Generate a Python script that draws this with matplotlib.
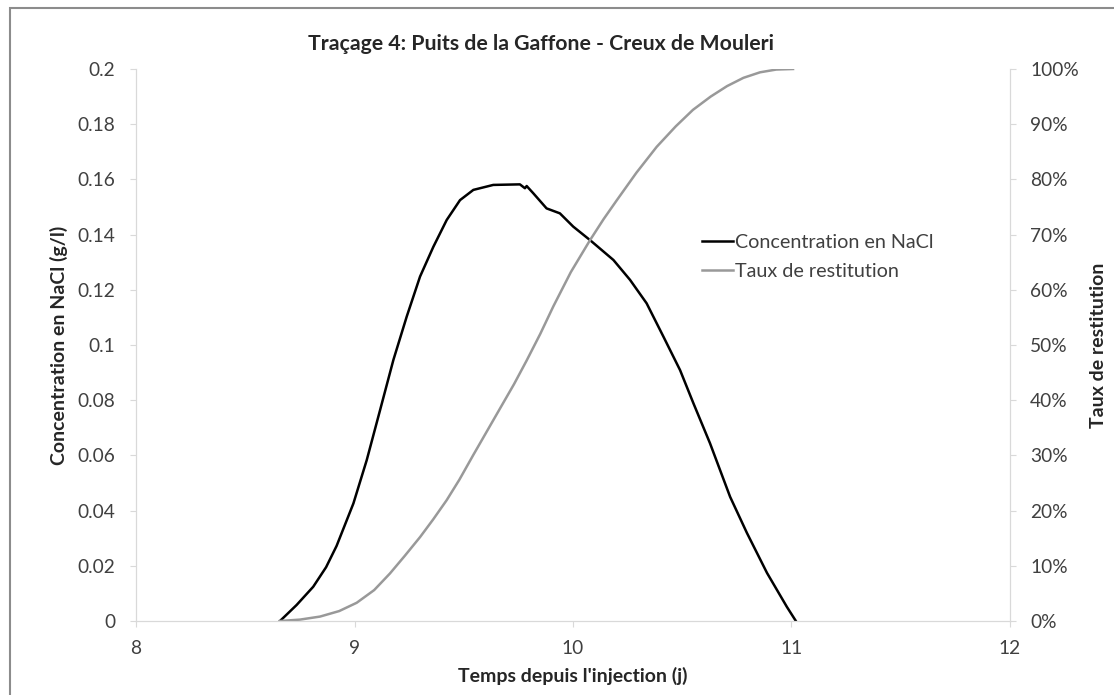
import matplotlib.pyplot as plt
from matplotlib.patches import Rectangle
from matplotlib.ticker import FuncFormatter

plt.rcParams['font.family'] = ['Lato', 'DejaVu Sans']

# concentration NaCl (g/l)
t_conc = [8.659, 8.735, 8.811, 8.87, 8.918, 8.995, 9.056, 9.117, 9.178, 9.239, 9.300, 9.361,
          9.422, 9.483, 9.544, 9.635, 9.757, 9.780, 9.788, 9.818, 9.879, 9.940,
          10.001, 10.078, 10.185, 10.261, 10.337, 10.414, 10.490, 10.551, 10.627,
          10.719, 10.796, 10.888, 10.979, 11.02]
conc = [0.0, 0.0058, 0.0124, 0.0195, 0.0272, 0.0426, 0.0583, 0.0764, 0.0946, 0.1103, 0.1248,
        0.1356, 0.1453, 0.1525, 0.1562, 0.158, 0.1582, 0.1568, 0.1576, 0.155,
        0.1495, 0.1477, 0.1429, 0.138, 0.1308, 0.1236, 0.1151, 0.103, 0.0909,
        0.0789, 0.0644, 0.045, 0.0319, 0.0174, 0.0051, 0.0]

# taux de restitution (%)
t_rest = [8.659, 8.75, 8.842, 8.93, 9.010, 9.09, 9.162, 9.23, 9.300, 9.36,
          9.422, 9.48, 9.544, 9.605, 9.666, 9.73, 9.788, 9.85, 9.910, 9.99,
          10.078, 10.14, 10.2, 10.29, 10.383, 10.47, 10.549, 10.63, 10.705,
          10.78, 10.856, 10.93, 11.007]
rest = [0.0, 0.25, 0.8, 1.8, 3.3, 5.6, 8.6, 11.8, 15.2, 18.4, 21.9, 25.6, 30.1,
        34.3, 38.5, 42.9, 47.2, 52.0, 57.0, 63.2, 69.0, 72.8, 76.2, 81.2, 85.9,
        89.6, 92.6, 95.0, 96.9, 98.4, 99.4, 99.9, 100.0]

fig = plt.figure(figsize=(11.14, 6.95), dpi=100)
ax = fig.add_axes([136 / 1114, 1 - 621 / 695, 874 / 1114, 552 / 695])
ax2 = ax.twinx()

l1, = ax.plot(t_conc, conc, color='black', lw=1.8, label='Concentration en NaCl')
l2, = ax2.plot(t_rest, rest, color='#999999', lw=1.8, label='Taux de restitution')

ax.set_xlim(8, 12)
ax.set_ylim(0, 0.2)
ax2.set_ylim(0, 100)
ax.set_xticks([8, 9, 10, 11, 12])
ax.set_yticks([0, 0.02, 0.04, 0.06, 0.08, 0.1, 0.12, 0.14, 0.16, 0.18, 0.2])
ax.yaxis.set_major_formatter(FuncFormatter(lambda v, p: f'{v:g}'))
ax2.set_yticks(range(0, 101, 10))
ax2.yaxis.set_major_formatter(FuncFormatter(lambda v, p: f'{v:.0f}%'))

for a in (ax, ax2):
    for s in a.spines.values():
        s.set_color('#d9d9d9')
    a.spines['top'].set_visible(False)
    a.tick_params(colors='#d9d9d9', labelcolor='#404040', labelsize=13.8, length=4)
ax.tick_params(axis='y', pad=11)
ax.tick_params(axis='x', pad=10)
ax2.tick_params(axis='y', pad=10.5)

ax.set_title('Traçage 4: Puits de la Gaffone - Creux de Mouleri', x=0.463,
             fontsize=15.3, fontweight='bold', color='#262626', pad=14)
ax.set_xlabel("Temps depuis l'injection (j)", fontsize=14, fontweight='bold',
              color='#262626', labelpad=7)
ax.set_ylabel('Concentration en NaCl (g/l)', fontsize=14, fontweight='bold',
              color='#262626', labelpad=7)
ax2.set_ylabel('Taux de restitution', fontsize=14, fontweight='bold',
               color='#262626', labelpad=8)

fig.legend(handles=[l1, l2], loc='upper left', bbox_to_anchor=(702 / 1114, 1 - 234 / 695),
           frameon=False, fontsize=14.2, handlelength=1.57, handletextpad=0.1,
           labelspacing=0.6, borderpad=0, borderaxespad=0, labelcolor='#404040')

fig.patches.append(Rectangle((10 / 1114, -0.1), 1.2, 1.1 - 8 / 695, transform=fig.transFigure,
                             fill=False, edgecolor='#8c8c8c', lw=1.5))

fig.savefig('out.png', dpi=100)
